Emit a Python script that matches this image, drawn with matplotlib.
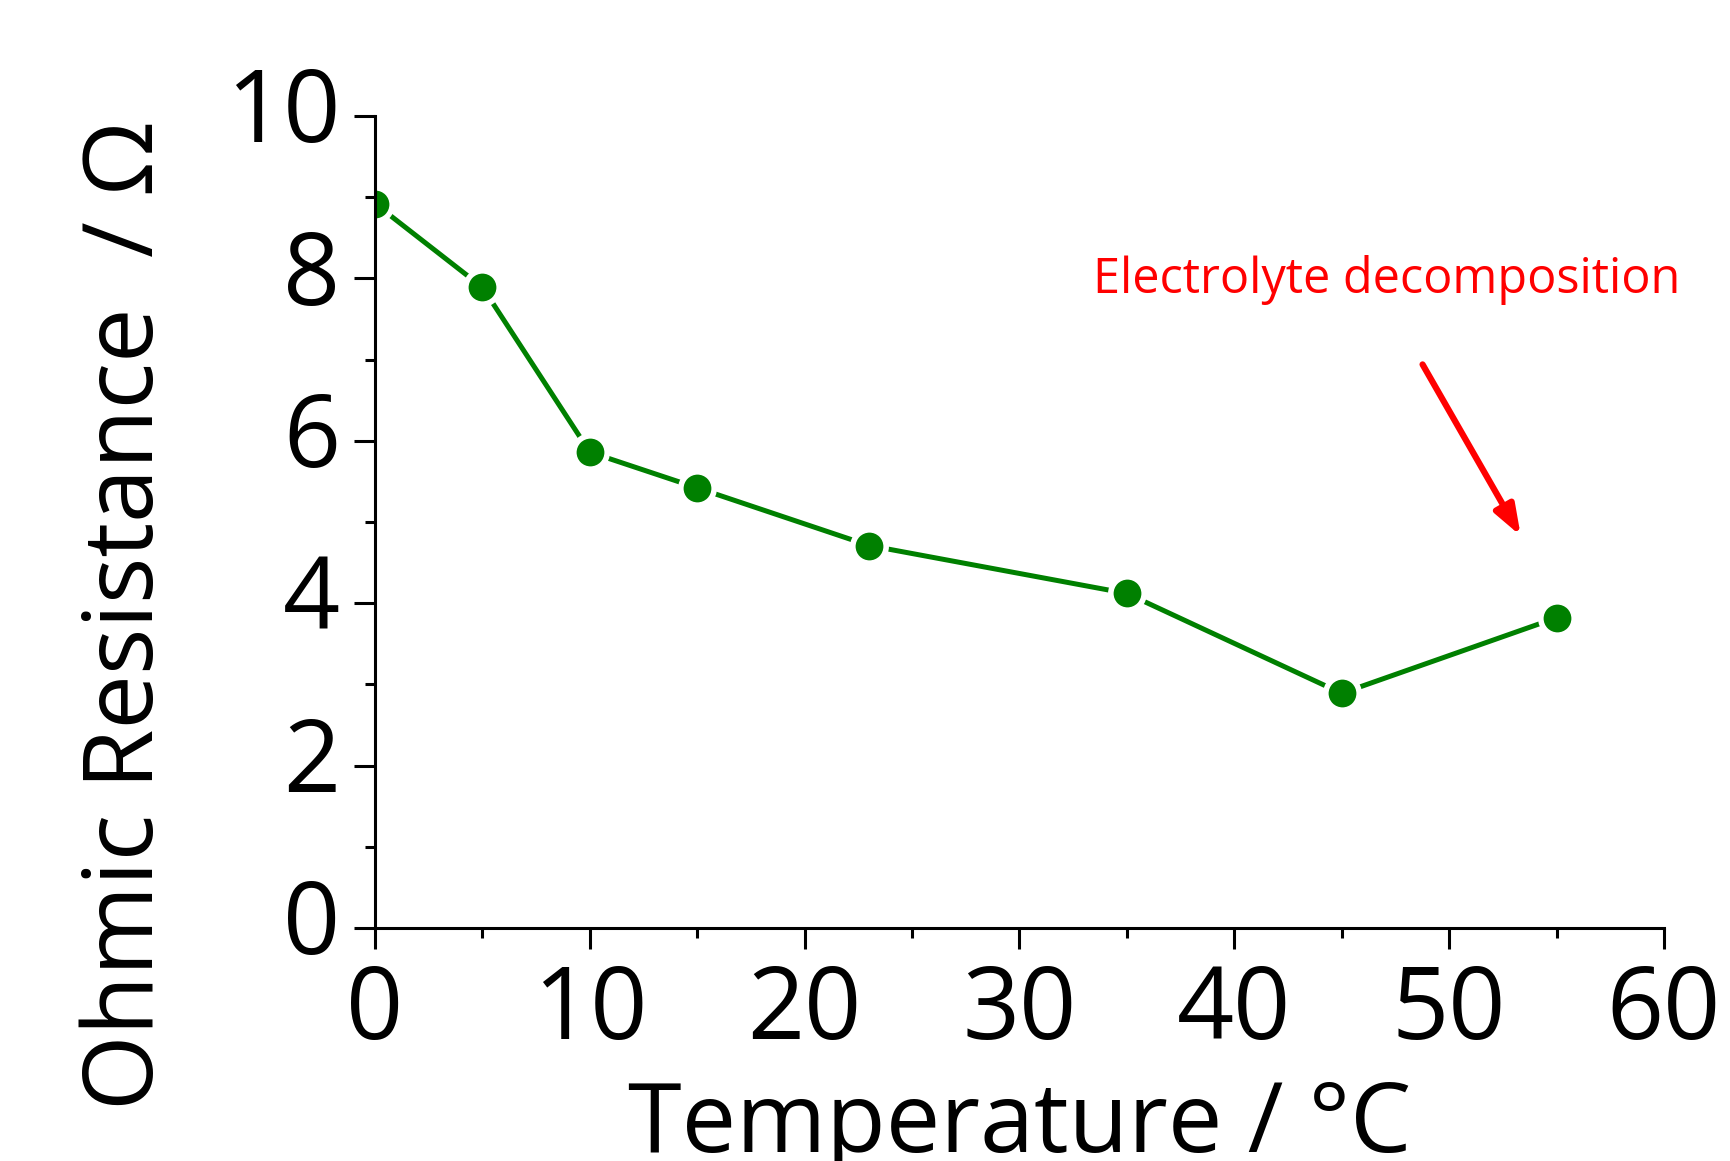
import matplotlib
matplotlib.use("Agg")
import matplotlib.pyplot as plt
from matplotlib.ticker import MultipleLocator

# values
temperature = [0, 5, 10, 15, 23, 35, 45, 55]
resistance = [8.92, 7.89, 5.86, 5.42, 4.71, 4.12, 2.89, 3.82]

annotation_text = "Electrolyte decomposition"
x_label = "Temperature / °C"
y_label = "Ohmic Resistance  / Ω"

plt.rcParams["font.family"] = ["Open Sans", "DejaVu Sans"]

fig = plt.figure(figsize=(17.3, 11.61), dpi=100)
ax = fig.add_axes((0.2168, 0.2007, 0.745, 0.6994))

ax.plot(
    temperature,
    resistance,
    color="green",
    linewidth=3.6,
    marker="o",
    markersize=24,
    markerfacecolor="green",
    markeredgecolor="white",
    markeredgewidth=4,
)

ax.set_xlim(0, 60)
ax.set_ylim(0, 10)
ax.xaxis.set_major_locator(MultipleLocator(10))
ax.xaxis.set_minor_locator(MultipleLocator(5))
ax.yaxis.set_major_locator(MultipleLocator(2))
ax.yaxis.set_minor_locator(MultipleLocator(1))

for side in ("top", "right"):
    ax.spines[side].set_visible(False)
for side in ("left", "bottom"):
    ax.spines[side].set_linewidth(2.2)

ax.tick_params(which="major", direction="out", length=15, width=2.2,
               labelsize=72, pad=10)
ax.tick_params(which="minor", direction="out", length=7.5, width=2.2)
# ref digits sit a little above the tick marks
plt.setp(ax.get_yticklabels(), va="center")

ax.set_xlabel(x_label, fontsize=70, labelpad=11)
fig.text(0.0735, 0.47, y_label, rotation=90, ha="center", va="center",
         fontsize=70)

ax.text(33.4, 7.98, annotation_text, color="red", fontsize=35,
        ha="left", va="center")
ax.annotate(
    "",
    xy=(53.4, 4.8),
    xytext=(48.7, 6.97),
    arrowprops=dict(arrowstyle="-|>,head_length=1.8,head_width=0.65",
                    color="red", linewidth=4.5),
)

fig.savefig("out.png", dpi=100)
